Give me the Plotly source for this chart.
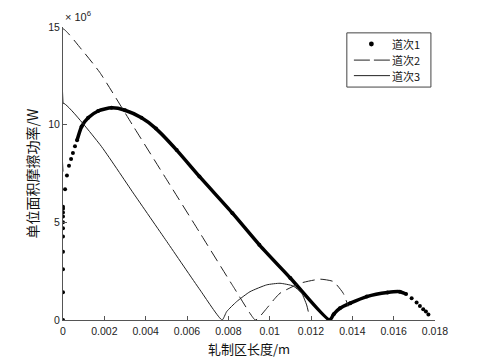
import plotly.graph_objects as go

# pass 1 (dots), y in units of 1e6 W
pass1_x = [0, 0, 0, 0, 0, 0, 0, 0, 0, 0, 0,
           0.0001, 0.00019, 0.00029, 0.00039, 0.00048, 0.00058, 0.00068,
           0.0009, 0.00122, 0.0017, 0.00235, 0.003, 0.0038, 0.0045,
           0.0055, 0.0066, 0.0082, 0.0095, 0.011, 0.0129,
           0.0131, 0.0134, 0.0139, 0.0147, 0.0157, 0.0163, 0.0166,
           0.01687, 0.01711, 0.01727, 0.01743, 0.01756, 0.01768]
pass1_y = [0, 1.42, 2.6, 3.5, 4.27, 4.7, 5.0, 5.3, 5.5, 5.7, 5.8,
           6.7, 7.4, 7.9, 8.24, 8.55, 8.9, 9.2,
           9.9, 10.35, 10.7, 10.86, 10.74, 10.35, 9.8,
           8.7, 7.35, 5.47, 3.85, 2.15, 0,
           0.3, 0.6, 0.86, 1.2, 1.41, 1.45, 1.33,
           1.11, 0.89, 0.72, 0.55, 0.43, 0.28]

# pass 2 (dashed)
pass2_x = [0, 0, 0.0009, 0.00179, 0.0034, 0.00502, 0.00663, 0.00824, 0.0093,
           0.00945, 0.00986, 0.01026, 0.0105, 0.01147, 0.01244, 0.01308,
           0.01356, 0.0138]
pass2_y = [11.1, 14.9, 13.85, 12.66, 9.92, 7.18, 4.45, 1.71, 0,
           0.09, 0.6, 1.11, 1.37, 1.88, 2.09, 1.97,
           1.37, 0.7]

# pass 3 (solid)
pass3_x = [0, 0, 0.00179, 0.0034, 0.00502, 0.00663, 0.0077,
           0.00792, 0.0084, 0.00905, 0.00986, 0.0105, 0.01114, 0.01155,
           0.01179, 0.01187]
pass3_y = [7.6, 11.1, 8.98, 6.5, 4.02, 1.54, 0,
           0.43, 0.94, 1.45, 1.8, 1.88, 1.74, 1.37,
           0.77, 0.43]

series_names = ["道次1", "道次2", "道次3"]
x_ticks = [0, 0.002, 0.004, 0.006, 0.008, 0.01, 0.012, 0.014, 0.016, 0.018]
x_labels = ["0", "0.002", "0.004", "0.006", "0.008", "0.01", "0.012", "0.014", "0.016", "0.018"]
y_ticks = [0, 5, 10, 15]

scale = 1e6
fig = go.Figure()

# dense part of pass 1 drawn as a thick line
fig.add_trace(go.Scatter(
    x=pass1_x[17:38], y=[v * scale for v in pass1_y[17:38]],
    mode="lines", line=dict(color="black", width=3.5, shape="spline", smoothing=0.6),
    showlegend=False, hoverinfo="skip"))
fig.add_trace(go.Scatter(
    x=pass1_x, y=[v * scale for v in pass1_y], name=series_names[0],
    mode="markers", marker=dict(color="black", size=4), showlegend=False))
fig.add_trace(go.Scatter(
    x=pass2_x, y=[v * scale for v in pass2_y], name=series_names[1], showlegend=False,
    mode="lines", line=dict(color="#222", width=1, dash="12px,6px", shape="spline", smoothing=0.5)))
fig.add_trace(go.Scatter(
    x=pass3_x, y=[v * scale for v in pass3_y], name=series_names[2], showlegend=False,
    mode="lines", line=dict(color="#222", width=1, shape="spline", smoothing=0.5)))

axis_font = dict(family="Liberation Sans, Arial", size=10.5, color="#222")
fig.update_xaxes(range=[0, 0.018], tickvals=x_ticks, ticktext=x_labels,
                 showline=True, linecolor="#555", linewidth=1, ticks="inside",
                 ticklen=4, tickcolor="#555", showgrid=False, zeroline=False,
                 tickfont=axis_font, automargin=False, ticklabelstandoff=1)
fig.update_yaxes(range=[0, 15 * scale], tickvals=[v * scale for v in y_ticks],
                 ticktext=[str(v) for v in y_ticks],
                 showline=True, linecolor="#555", linewidth=1, ticks="inside",
                 ticklen=4, tickcolor="#555", showgrid=False, zeroline=False,
                 tickfont=axis_font, automargin=False,
                 title=dict(text="单位面积摩擦功率/W", standoff=6,
                            font=dict(family="Noto Sans CJK SC", size=14, color="#111")))

# x title as an annotation so it can sit close under the tick labels
fig.add_annotation(x=0.5, y=0, xref="paper", yref="paper", xanchor="center", yanchor="middle",
                   yshift=-28, text="轧制区长度/m", showarrow=False, borderpad=0,
                   font=dict(family="Noto Sans CJK SC", size=13, color="#111"))

fig.add_annotation(x=0, y=1, xref="paper", yref="paper", xanchor="left", yanchor="bottom",
                   text="× 10<sup>6</sup>", showarrow=False, yshift=2,
                   font=dict(family="Liberation Sans, Arial", size=11, color="#222"))

# legend drawn by hand so the rows sit as tight as in the original
legend_rows = [0.942, 0.887, 0.834]
fig.add_shape(type="rect", xref="paper", yref="paper", x0=0.763, x1=0.989, y0=0.795, y1=0.980,
              line=dict(color="#444", width=1), fillcolor="white", layer="above")
fig.add_shape(type="circle", xref="paper", yref="paper",
              x0=0.829 - 0.0065, x1=0.829 + 0.0065, y0=legend_rows[0] - 0.0085, y1=legend_rows[0] + 0.0085,
              line=dict(color="black", width=0), fillcolor="black", layer="above")
fig.add_shape(type="line", xref="paper", yref="paper", x0=0.782, x1=0.879,
              y0=legend_rows[1], y1=legend_rows[1], line=dict(color="#222", width=1, dash="16px,4px"),
              layer="above")
fig.add_shape(type="line", xref="paper", yref="paper", x0=0.782, x1=0.879,
              y0=legend_rows[2], y1=legend_rows[2], line=dict(color="#222", width=1), layer="above")
for name, ry in zip(series_names, legend_rows):
    fig.add_annotation(x=0.883, y=ry, xref="paper", yref="paper", xanchor="left", yanchor="middle",
                       text=name, showarrow=False, borderpad=0,
                       font=dict(family="Noto Sans CJK SC", size=11, color="#111"))

# the page body adds an 8px offset, so margins are shifted to compensate
fig.update_layout(
    width=480, height=360,
    margin=dict(l=55, r=53, t=19, b=48),
    paper_bgcolor="white", plot_bgcolor="white",
)

fig.write_html("out.html")
